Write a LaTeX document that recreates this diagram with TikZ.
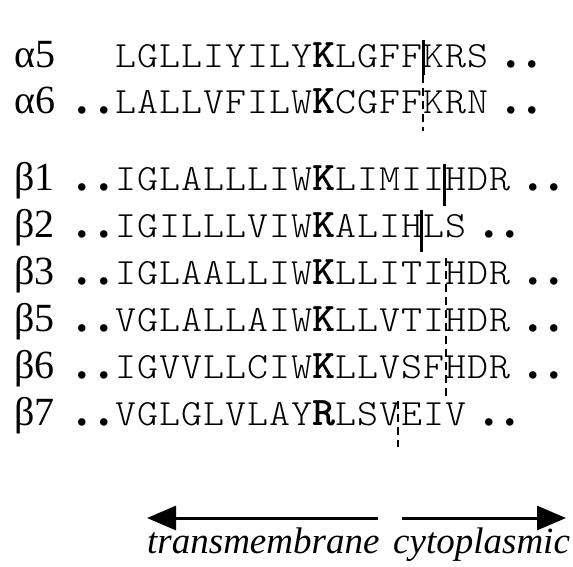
\documentclass[tikz,border=0pt]{standalone}
\usepackage{fontspec}
\usepackage{graphicx}
\setmainfont{Liberation Serif}
\usetikzlibrary{arrows.meta}

% residue font: Latin Modern Mono, widened a little
\newcommand\resfont{\fontfamily{lmtt}\fontseries{l}\fontsize{37}{37}\selectfont}
\newcommand\hl[1]{{\fontseries{b}\selectfont\scalebox{1.1}{#1}}}
\newcommand\colzero{126}
\newcommand\pitch{22}

% one aligned row of residues, one node per residue
\newcommand\seqrow[3]{%
  \foreach \ch [count=\i from 0] in {#3} {
    \node[res] (#1-\i) at ({\colzero+\i*\pitch}, #2) {\scalebox{1.08}[1]{\ch}};
  }}

\tikzset{
  res/.style={anchor=base, inner sep=0pt, font=\resfont},
  lab/.style={anchor=base west, inner sep=0pt, font=\fontsize{40}{40}\selectfont},
  dotmark/.style={anchor=base, inner sep=0pt, font=\bfseries\fontsize{46}{46}\selectfont},
  region/.style={anchor=base west, inner sep=0pt, font=\itshape\fontsize{37}{37}\selectfont},
  cut/.style={line width=3pt},
  cutdash/.style={line width=2.6pt, dash pattern=on 8pt off 5pt},
  bigarrow/.style={line width=3pt, -{Triangle[length=29pt,width=24pt]}},
}

\begin{document}
\begin{tikzpicture}[x=1pt, y=-1pt]
\useasboundingbox (0,0) rectangle (573,566);
\fill[white] (0,0) rectangle (573,566);

% row labels
\node[lab] (la5) at (14,67)  {α5};
\node[lab] (la6) at (14,113) {α6};
\node[lab] (lb1) at (14,190) {β1};
\node[lab] (lb2) at (14,237) {β2};
\node[lab] (lb3) at (14,284) {β3};
\node[lab] (lb5) at (14,331) {β5};
\node[lab] (lb6) at (14,378) {β6};
\node[lab] (lb7) at (14,425) {β7};

% sequences
\seqrow{a5}{67}{L,G,L,L,I,Y,I,L,Y,\hl{K},L,G,F,F,K,R,S}
\seqrow{a6}{113}{L,A,L,L,V,F,I,L,W,\hl{K},C,G,F,F,K,R,N}
\seqrow{b1}{190}{I,G,L,A,L,L,L,I,W,\hl{K},L,I,M,I,I,H,D,R}
\seqrow{b2}{237}{I,G,I,L,L,L,V,I,W,\hl{K},A,L,I,H,L,S}
\seqrow{b3}{284}{I,G,L,A,A,L,L,I,W,\hl{K},L,L,I,T,I,H,D,R}
\seqrow{b5}{331}{V,G,L,A,L,L,A,I,W,\hl{K},L,L,V,T,I,H,D,R}
\seqrow{b6}{378}{I,G,V,V,L,L,C,I,W,\hl{K},L,L,V,S,F,H,D,R}
\seqrow{b7}{425}{V,G,L,G,L,V,L,A,Y,\hl{R},L,S,V,E,I,V}

% leading dots
\foreach \r/\y in {a6/113,b1/190,b2/237,b3/284,b5/331,b6/378,b7/425} {
  \node[dotmark] (\r-ld1) at (82,\y) {.};
  \node[dotmark] (\r-ld2) at (104,\y) {.};
}
% trailing dots, placed after the last residue
\foreach \r/\n/\y in {a5/16/67,a6/16/113,b1/17/190,b2/15/237,b3/17/284,b5/17/331,b6/17/378,b7/15/425} {
  \node[dotmark] (\r-td1) at ({\colzero+\n*\pitch+33},\y) {.};
  \node[dotmark] (\r-td2) at ({\colzero+\n*\pitch+54},\y) {.};
}

% boundary marks
\coordinate (a5top) at (423,40);
\coordinate (a5bot) at (423,75);
\coordinate (a6bot) at (423,131);
\draw[cut] (a5top) -- (a5bot);
\draw[cutdash] (a5bot) -- (a6bot);

\coordinate (b1top) at (444,164);
\coordinate (b1bot) at (444,206);
\draw[cut] (b1top) -- (b1bot);

\coordinate (b2top) at (421,210);
\coordinate (b2bot) at (421,252);
\draw[cut] (b2top) -- (b2bot);

\coordinate (b3top) at (446,258);
\coordinate (b6bot) at (446,398);
\draw[cutdash] (b3top) -- (b6bot);

\coordinate (b7top) at (398,401);
\coordinate (b7bot) at (398,447);
\draw[cutdash] (b7top) -- (b7bot);

% direction arrows and region names
\coordinate (tmR) at (378,518);
\coordinate (tmL) at (147,518);
\coordinate (cyL) at (402,518);
\coordinate (cyR) at (566,518);
\draw[bigarrow] (tmR) -- (tmL);
\draw[bigarrow] (cyL) -- (cyR);
\node[region] (tm) at (147,553) {transmembrane};
\node[region] (cy) at (393,553) {cytoplasmic};
\end{tikzpicture}
\end{document}
